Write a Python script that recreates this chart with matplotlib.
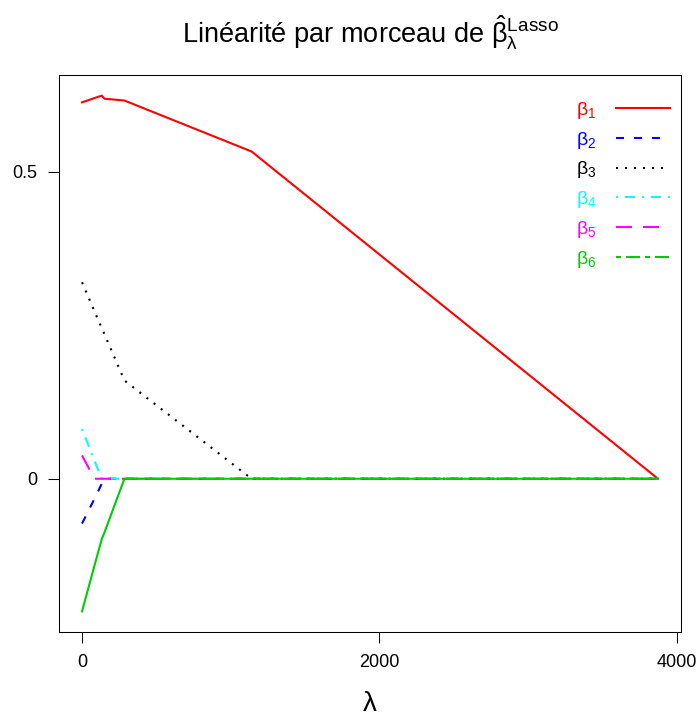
import numpy as np
import matplotlib
matplotlib.use("Agg")
import matplotlib.pyplot as plt
from matplotlib.lines import Line2D

plt.rcParams['font.family'] = ['Liberation Sans', 'DejaVu Sans']
plt.rcParams['mathtext.default'] = 'regular'
plt.rcParams['lines.scale_dashes'] = False

# breakpoints of the lasso path (lambda) and coefficient values there
lambdas = [0, 83, 133, 150, 285, 1140, 3872]
beta1 = [0.613, 0.620, 0.624, 0.619, 0.616, 0.533, 0.0]
beta2 = [-0.073, -0.033, -0.008, 0.0, 0.0, 0.0, 0.0]
beta3 = [0.320, 0.273, 0.245, 0.236, 0.160, 0.0, 0.0]
beta4 = [0.081, 0.030, 0.0, 0.0, 0.0, 0.0, 0.0]
beta5 = [0.038, 0.0, 0.0, 0.0, 0.0, 0.0, 0.0]
beta6 = [-0.216, -0.142, -0.098, -0.088, 0.0, 0.0, 0.0]

labels = [r'$\beta_1$', r'$\beta_2$', r'$\beta_3$', r'$\beta_4$', r'$\beta_5$', r'$\beta_6$']
colors = ['#FF0000', '#0000FF', '#000000', '#00FFFF', '#FF00FF', '#00CD00']

px = 0.72  # points per pixel at dpi 100
styles = [
    '-',
    (0, (8 * px, 10 * px)),
    (0, (2 * px, 7 * px)),
    (0, (2 * px, 7 * px, 10 * px, 7 * px)),
    (0, (16 * px, 11 * px)),
    (0, (5 * px, 5 * px, 14 * px, 5 * px)),
]
# the twodash gaps close up on the plotted path, so it shows as solid there
plot_styles = styles[:5] + ['-']

fig = plt.figure(figsize=(6.99, 7.19), dpi=100)
ax = fig.add_axes([0.0844, 0.121, 0.8898, 0.7747])

betas = [beta1, beta2, beta3, beta4, beta5, beta6]
for b, c, ls in zip(betas, colors, plot_styles):
    ax.plot(lambdas, b, color=c, linestyle=ls, linewidth=1.5)

# R style 4% padding
xr = max(lambdas) - min(lambdas)
allb = np.concatenate([np.array(b) for b in betas])
yr = allb.max() - allb.min()
ax.set_xlim(min(lambdas) - 0.04 * xr, max(lambdas) + 0.04 * xr)
ax.set_ylim(allb.min() - 0.04 * yr, allb.max() + 0.04 * yr)

ax.set_xticks([0, 2000, 4000])
ax.set_xticklabels(['0', '2000', '4000'])
ax.set_yticks([0, 0.5])
ax.set_yticklabels(['0', '0.5'])
ax.tick_params(direction='out', length=7.9, width=0.75, labelsize=13, pad=8)
for s in ax.spines.values():
    s.set_linewidth(0.75)

ax.set_xlabel('λ', fontsize=20, labelpad=14)
fig.text(370 / 699, 1 - 43 / 719,
         r'Linéarité par morceau de $\hat{\beta}_{\lambda}^{Lasso}$',
         fontsize=19.5, ha='center', va='baseline')

handles = [Line2D([], [], color=c, linestyle=ls, linewidth=1.5)
           for c, ls in zip(colors, styles)]
leg = fig.legend(handles, labels, loc='upper right', frameon=False, markerfirst=False,
                 fontsize=14, labelcolor=colors, handlelength=2.78, handletextpad=1.0,
                 labelspacing=0.45, borderpad=0, borderaxespad=0,
                 bbox_to_anchor=(670 / 699, 1 - 100 / 719))

fig.savefig('out.png', dpi=100)
